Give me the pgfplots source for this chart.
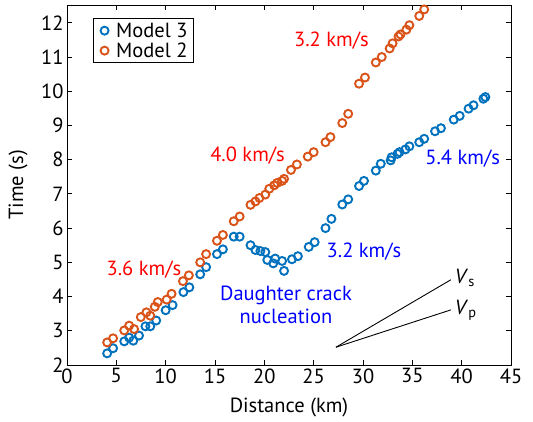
\documentclass[border=0pt]{standalone}
\usepackage{fontspec}
\setmainfont{PT Sans}
\usepackage{pgfplots}
\pgfplotsset{compat=1.18}
\definecolor{mblue}{rgb}{0,0.447,0.741}
\definecolor{morange}{rgb}{0.85,0.325,0.098}
\newcommand{\fs}{\fontsize{20.5}{24}\selectfont}
\begin{document}
\begin{tikzpicture}
\begin{axis}[
 scale only axis, width=444pt, height=360pt,
 xmin=0, xmax=45, ymin=2, ymax=12.52,
 xtick={0,5,...,45}, ytick={2,3,...,12},
 tick align=inside, major tick length=5pt,
 axis line style={line width=0.9pt},
 tick style={line width=0.8pt, black},
 /pgf/number format/assume math mode=true,
 tick label style={font=\fs},
 label style={font=\fs},
 xlabel={Distance (km)}, ylabel={Time (s)},
 xlabel style={at={(axis description cs:0.5,-0.117)}, anchor=center},
 ylabel style={at={(axis description cs:-0.11,0.5)}, anchor=center},
 legend style={at={(axis cs:2.6,12.13)}, anchor=north west, font=\fs, draw=black, line width=0.8pt,
   inner xsep=4pt, inner ysep=2pt, row sep=0pt,
   nodes={inner sep=2pt},
   /tikz/every odd column/.append style={column sep=5pt}},
 legend image code/.code={\path (0cm,0cm) (0.4cm,0cm); \draw[#1] plot coordinates {(0.25cm,0cm)};},
 legend cell align=left,
 clip=false,
]
\addplot[only marks, mark=o, mark size=4pt, mark options={line width=1.9pt, draw=mblue}, mblue] coordinates {
(4.07,2.34) (4.67,2.49) (5.8,2.69) (6.3,2.8) (6.72,2.71) (7.3,2.86) (7.95,3.13) (8.44,3.13) (9.04,3.3) (10.0,3.6)
(10.7,3.75) (11.8,4.13) (12.4,4.27) (13.5,4.65) (14.1,4.86) (15.2,5.24) (15.8,5.38) (16.9,5.75) (17.5,5.75) (18.6,5.5)
(19.1,5.36) (19.6,5.33) (20.1,5.3) (20.3,5.07) (20.9,4.97) (21.1,5.11) (21.8,5.04) (22.0,4.75) (22.8,5.09) (23.4,5.18)
(24.5,5.45) (25.1,5.59) (26.2,6.0) (26.8,6.27) (27.9,6.69) (28.5,6.84) (29.6,7.23) (30.1,7.38) (31.3,7.68) (31.8,7.88)
(32.8,7.98) (32.9,8.07) (33.5,8.17) (33.7,8.22) (34.3,8.3) (34.7,8.39) (35.7,8.51) (36.2,8.61) (37.3,8.83) (37.9,8.92)
(39.2,9.17) (39.8,9.28) (40.7,9.49) (41.2,9.59) (42.2,9.78) (42.4,9.83)
};
\addlegendentry{Model 3}
\addplot[only marks, mark=o, mark size=4pt, mark options={line width=1.9pt, draw=morange}, morange] coordinates {
(4.07,2.66) (4.67,2.78) (5.8,3.01) (6.3,3.15) (6.8,3.05) (7.48,3.40) (8.05,3.54) (8.44,3.44) (8.9,3.7) (9.2,3.84)
(10.1,3.91) (10.6,4.08) (11.75,4.45) (12.35,4.62) (13.5,5.0) (14.1,5.24) (15.2,5.63) (15.8,5.8) (16.9,6.2) (17.5,6.34)
(18.6,6.68) (19.1,6.78) (19.5,6.88) (20.1,6.98) (20.5,7.15) (21.0,7.25) (21.3,7.32) (21.8,7.38) (22.0,7.44) (22.7,7.70)
(23.3,7.86) (24.4,8.09) (25.0,8.22) (26.2,8.51) (26.7,8.66) (27.9,9.07) (28.5,9.34) (29.6,10.22) (30.2,10.4) (31.3,10.84)
(31.9,11.0) (32.7,11.25) (33.0,11.4) (33.6,11.6) (33.8,11.66) (34.4,11.8) (34.7,11.93) (35.7,12.2) (36.2,12.39)
};
\addlegendentry{Model 2}
\addplot[black, line width=0.9pt, forget plot] coordinates {(27.26,2.52) (38.9,4.49)};
\addplot[black, line width=0.9pt, forget plot] coordinates {(27.26,2.52) (38.9,3.61)};
\node[font=\fs, text=red] at (axis cs:26.8,11.49) {3.2 km/s};
\node[font=\fs, text=red] at (axis cs:18.3,8.12) {4.0 km/s};
\node[font=\fs, text=red] at (axis cs:7.8,4.78) {3.6 km/s};
\node[font=\fs, text=blue] at (axis cs:40.1,8.02) {5.4 km/s};
\node[font=\fs, text=blue] at (axis cs:30.1,5.32) {3.2 km/s};
\node[font=\fs, text=blue, align=center] at (axis cs:22.2,3.75) {Daughter crack\\[-1pt]nucleation};
\node[font=\fs, anchor=west, inner sep=0pt] at (axis cs:39.3,4.55) {\textit{V}\textsubscript{s}};
\node[font=\fs, anchor=west, inner sep=0pt] at (axis cs:39.3,3.6) {\textit{V}\textsubscript{p}};
\end{axis}
\pgfresetboundingbox
\path ([xshift=-67pt,yshift=-57pt]current axis.south west) rectangle ([xshift=22pt,yshift=5pt]current axis.north east);
\end{tikzpicture}
\end{document}
